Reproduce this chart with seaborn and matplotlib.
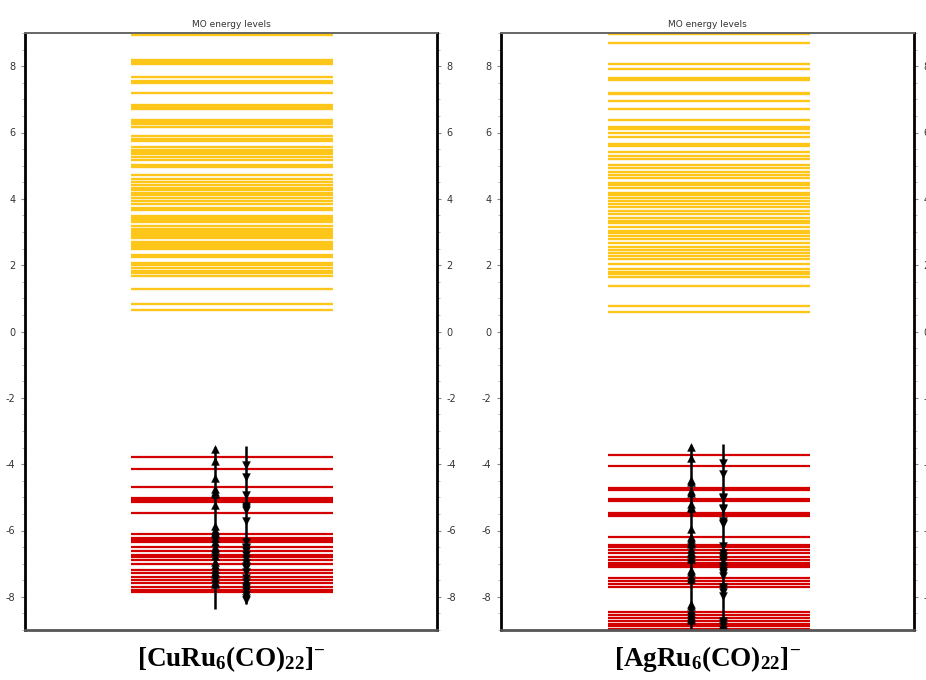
import matplotlib
matplotlib.use("Agg")
import matplotlib.pyplot as plt
from matplotlib.ticker import MultipleLocator
import seaborn as sns
import pandas as pd
import numpy as np

sns.set_theme(style="white")
plt.rcParams['font.family'] = ['DejaVu Sans']
plt.rcParams['mathtext.fontset'] = 'custom'
plt.rcParams['mathtext.rm'] = 'Liberation Serif:bold'
plt.rcParams['mathtext.bf'] = 'Liberation Serif:bold'
plt.rcParams['mathtext.it'] = 'Liberation Serif:bold'

# ---- data (eV) ----
cu_virtual = [8.98, 8.94, 8.19, 8.14, 8.08, 7.68, 7.55, 7.50, 7.18, 6.82, 6.77, 6.71,
              6.37, 6.31, 6.25, 6.17, 5.88, 5.81, 5.74, 5.57, 5.48, 5.41, 5.34, 5.26,
              5.18, 5.01, 4.96, 4.71, 4.61, 4.52, 4.41, 4.34, 4.27, 4.19, 4.11, 4.04,
              3.94, 3.84, 3.72, 3.65, 3.49, 3.44, 3.39, 3.33, 3.29, 3.19, 3.09, 3.03,
              2.98, 2.93, 2.88, 2.83, 2.69, 2.64, 2.59, 2.54, 2.49, 2.31, 2.24, 2.07,
              1.99, 1.91, 1.83, 1.75, 1.67, 1.28, 0.82, 0.66]
cu_occupied = [-3.78, -4.15, -4.68, -5.01, -5.08, -5.14, -5.47, -6.10, -6.24, -6.29,
               -6.36, -6.49, -6.61, -6.74, -6.81, -6.89, -7.01, -7.19, -7.29, -7.41,
               -7.49, -7.57, -7.69, -7.79, -7.85]

ag_virtual = [8.97, 8.70, 8.07, 7.90, 7.65, 7.59, 7.19, 7.15, 6.95, 6.72, 6.37, 6.18,
              6.10, 6.00, 5.86, 5.66, 5.60, 5.41, 5.29, 5.21, 5.02, 4.94, 4.82, 4.72,
              4.64, 4.49, 4.42, 4.34, 4.19, 4.11, 4.04, 3.94, 3.84, 3.76, 3.64, 3.54,
              3.42, 3.34, 3.26, 3.14, 3.04, 2.97, 2.89, 2.79, 2.67, 2.54, 2.46, 2.36,
              2.28, 2.19, 2.04, 1.88, 1.80, 1.72, 1.65, 1.37, 0.78, 0.59]
ag_occupied = [-3.72, -4.06, -4.73, -4.78, -5.06, -5.11, -5.46, -5.53, -5.56, -6.21,
               -6.44, -6.51, -6.59, -6.67, -6.81, -6.89, -6.97, -7.04, -7.11, -7.44,
               -7.51, -7.61, -7.71, -8.47, -8.54, -8.64, -8.74, -8.82, -8.89, -8.96]

panel_titles = ["MO energy levels", "MO energy levels"]
panel_labels = [r"$\mathbf{[CuRu_{6}(CO)_{22}]^{-}}$", r"$\mathbf{[AgRu_{6}(CO)_{22}]^{-}}$"]
yticks = [-8, -6, -4, -2, 0, 2, 4, 6, 8]

VIRT_COLOR = "#FFC61A"
OCC_COLOR = "#D40000"

fig = plt.figure(figsize=(9.26, 6.80), dpi=100)
positions = [[25/926, 1-630/680, 412/926, 597/680],
             [501/926, 1-630/680, 413/926, 597/680]]
datasets = [(cu_virtual, cu_occupied), (ag_virtual, ag_occupied)]

x_lo, x_hi = 0.258, 0.748
x_up, x_dn = 0.461, 0.537

for pos, (virt, occ), title, label in zip(positions, datasets, panel_titles, panel_labels):
    ax = fig.add_axes(pos)
    ax.set_xlim(0, 1)
    ax.set_ylim(-9, 9)
    ax.hlines(virt, x_lo, x_hi, color=VIRT_COLOR, lw=1.7, zorder=2)
    ax.hlines(occ, x_lo, x_hi, color=OCC_COLOR, lw=1.6, zorder=2)

    occ_arr = np.array(occ)
    ax.vlines(x_up, occ_arr.min() - 0.52, occ_arr.max() + 0.30, color="black", lw=1.8, zorder=3)
    ax.vlines(x_dn, occ_arr.min() - 0.38, occ_arr.max() + 0.32, color="black", lw=1.8, zorder=3)

    up_df = pd.DataFrame({"x": x_up, "y": occ_arr + 0.25})
    dn_df = pd.DataFrame({"x": x_dn, "y": occ_arr - 0.25})
    sns.scatterplot(data=up_df, x="x", y="y", marker="^", s=32, color="black",
                    edgecolor="black", linewidth=0.3, ax=ax, zorder=4, clip_on=True)
    sns.scatterplot(data=dn_df, x="x", y="y", marker="v", s=32, color="black",
                    edgecolor="black", linewidth=0.3, ax=ax, zorder=4, clip_on=True)

    ax.set_xlabel("")
    ax.set_ylabel("")
    ax.set_xticks([])
    ax.set_yticks(yticks)
    ax.set_yticklabels([str(t) for t in yticks])
    ax.yaxis.set_minor_locator(MultipleLocator(0.5))
    ax.tick_params(axis="y", which="major", left=True, right=True, labelleft=True,
                   labelright=True, length=3, width=0.8, color="#888888",
                   labelsize=7, labelcolor="#333333", pad=4, direction="out")
    ax.tick_params(axis="y", which="minor", left=True, right=True, length=2,
                   width=0.6, color="#aaaaaa", direction="out")
    for side in ["left", "right"]:
        ax.spines[side].set_color("black")
        ax.spines[side].set_linewidth(2.0)
    ax.spines["top"].set_color("#666666")
    ax.spines["top"].set_linewidth(1.4)
    ax.spines["bottom"].set_color("#555555")
    ax.spines["bottom"].set_linewidth(2.0)
    for s in ax.spines.values():
        s.set_visible(True)
        s.set_zorder(5)
    ax.set_title(title, fontsize=6.5, color="#333333", pad=4)
    ax.text(0.5, -0.024, label, transform=ax.transAxes, ha="center", va="top",
            fontsize=19.5, color="black")

fig.savefig("out.png", dpi=100)
